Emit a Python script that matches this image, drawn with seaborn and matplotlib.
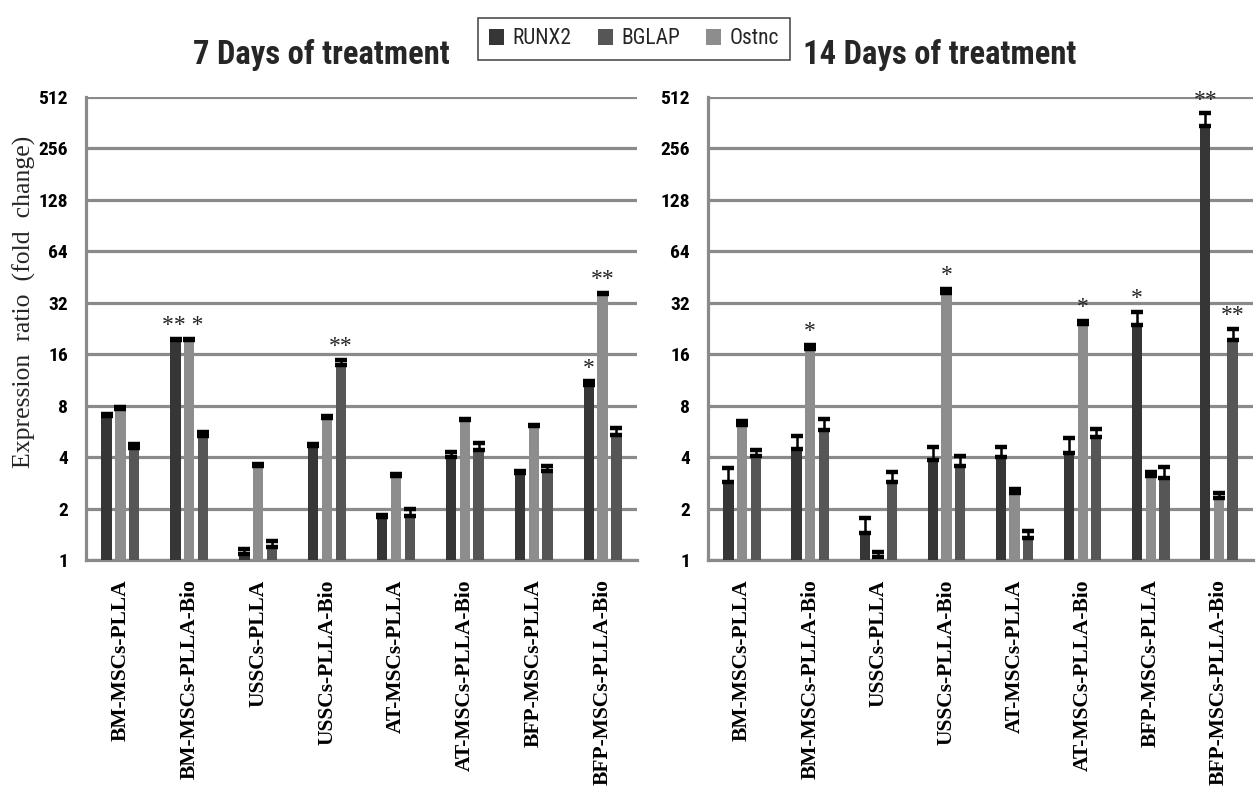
import numpy as np
import pandas as pd
import matplotlib
matplotlib.use("Agg")
import matplotlib.pyplot as plt
from matplotlib import font_manager
from matplotlib.patches import Patch
import seaborn as sns

# ---- data -------------------------------------------------------------
groups = ["BM-MSCs-PLLA", "BM-MSCs-PLLA-Bio", "USSCs-PLLA", "USSCs-PLLA-Bio",
          "AT-MSCs-PLLA", "AT-MSCs-PLLA-Bio", "BFP-MSCs-PLLA", "BFP-MSCs-PLLA-Bio"]
legend_genes = ["RUNX2", "BGLAP", "Ostnc"]
bar_genes = ["RUNX2", "Ostnc", "BGLAP"]
y_ticks = [1, 2, 4, 8, 16, 32, 64, 128, 256, 512]

# 7 days: fold change and upper error
runx2_d7 = [7.0, 19.3, 1.09, 4.65, 1.79, 4.03, 3.25, 10.5]
runx2_d7_err = [0.15, 0.4, 0.07, 0.12, 0.05, 0.25, 0.08, 0.6]
ostnc_d7 = [7.7, 19.3, 3.57, 6.8, 3.09, 6.6, 6.1, 36.0]
ostnc_d7_err = [0.2, 0.4, 0.07, 0.15, 0.08, 0.12, 0.1, 0.6]
bglap_d7 = [4.5, 5.3, 1.19, 13.8, 1.81, 4.42, 3.3, 5.42]
bglap_d7_err = [0.3, 0.3, 0.11, 1.1, 0.17, 0.41, 0.27, 0.48]

# 14 days: fold change and upper error
runx2_d14 = [2.87, 4.47, 1.44, 3.87, 4.0, 4.25, 23.8, 345.0]
runx2_d14_err = [0.57, 0.87, 0.33, 0.7, 0.6, 0.95, 4.4, 65.0]
ostnc_d14 = [6.17, 17.2, 1.04, 36.6, 2.46, 24.0, 3.11, 2.32]
ostnc_d14_err = [0.33, 0.9, 0.07, 2.0, 0.14, 1.2, 0.16, 0.14]
bglap_d14 = [4.05, 5.8, 2.87, 3.54, 1.34, 5.23, 3.01, 19.4]
bglap_d14_err = [0.38, 0.9, 0.39, 0.54, 0.14, 0.62, 0.48, 3.1]

# significance marks: (group index, genes the mark sits over, label)
stars_d7 = [(1, ("RUNX2", "Ostnc"), "** *"), (3, ("BGLAP",), "**"),
            (7, ("RUNX2",), "*"), (7, ("Ostnc",), "**")]
stars_d14 = [(1, ("Ostnc",), "*"), (3, ("Ostnc",), "*"), (5, ("Ostnc",), "*"),
             (6, ("RUNX2",), "*"), (7, ("RUNX2",), "**"), (7, ("BGLAP",), "**")]

colors = {"RUNX2": "#363636", "BGLAP": "#565656", "Ostnc": "#8d8d8d"}
grid_color = "#8a8a8a"


def tidy(runx2, runx2_err, bglap, bglap_err, ostnc, ostnc_err):
    frames = []
    for gene, vals, errs in [("RUNX2", runx2, runx2_err),
                             ("BGLAP", bglap, bglap_err),
                             ("Ostnc", ostnc, ostnc_err)]:
        frames.append(pd.DataFrame({"group": groups, "gene": gene,
                                    "value": vals, "err": errs}))
    return pd.concat(frames, ignore_index=True)


df7 = tidy(runx2_d7, runx2_d7_err, bglap_d7, bglap_d7_err, ostnc_d7, ostnc_d7_err)
df14 = tidy(runx2_d14, runx2_d14_err, bglap_d14, bglap_d14_err, ostnc_d14, ostnc_d14_err)

# ---- fonts ------------------------------------------------------------
sns.set_theme(style="white")
installed = {f.name for f in font_manager.fontManager.ttflist}
narrow_family = "Roboto"
for name in ["Liberation Sans Narrow", "Roboto Condensed", "Noto Sans Condensed",
             "Open Sans Condensed"]:
    if name in installed:
        narrow_family = name
        break
narrow = dict(family=narrow_family)
serif = "Liberation Serif"
plt.rcParams["font.family"] = ["DejaVu Sans"]


def draw(ax, df, stars):
    sns.barplot(data=df, x="group", y="value", hue="gene", order=groups,
                hue_order=bar_genes, palette=colors, width=0.6, gap=0.25,
                errorbar=None, legend=False, saturation=1, linewidth=0,
                ax=ax, zorder=3)
    ax.set_yscale("log", base=2)
    tops = {}
    for gene, cont in zip(bar_genes, ax.containers):
        xs = np.array([b.get_x() + b.get_width() / 2 for b in cont])
        hs = np.array([b.get_height() for b in cont])
        err = df[df.gene == gene].set_index("group").loc[groups, "err"].to_numpy()
        ax.errorbar(xs, hs, yerr=[np.zeros_like(err), err], fmt="none",
                    ecolor="black", elinewidth=1.8, capsize=4.5, capthick=3.2,
                    zorder=4)
        for i, (x, h, e) in enumerate(zip(xs, hs, err)):
            tops[(i, gene)] = (x, h + e)
    for gi, genes, label in stars:
        x = np.mean([tops[(gi, g)][0] for g in genes])
        top = max(tops[(gi, g)][1] for g in genes)
        ax.annotate(label, (x, top), xytext=(0, 2), textcoords="offset points",
                    ha="center", va="bottom", fontsize=17, family=serif,
                    color="#222222", annotation_clip=False)

    ax.set_ylim(1, 512)
    ax.set_xlim(-0.5, len(groups) - 0.5)
    ax.set_yticks(y_ticks)
    ax.set_yticklabels([str(t) for t in y_ticks], fontsize=14,
                       fontweight="bold", **narrow)
    ax.minorticks_off()
    ax.set_xticks(range(len(groups)))
    ax.set_xticklabels(groups, rotation=90, fontsize=15.5, fontweight="bold",
                       family=serif, va="top")
    ax.tick_params(axis="both", length=0, colors="black")
    ax.tick_params(axis="x", pad=14)
    ax.tick_params(axis="y", pad=13)
    ax.yaxis.grid(True, color=grid_color, linewidth=2.3)
    ax.xaxis.grid(False)
    ax.set_axisbelow(True)
    for side in ("top", "right"):
        ax.spines[side].set_visible(False)
    for side in ("left", "bottom"):
        ax.spines[side].set_color(grid_color)
        ax.spines[side].set_linewidth(2.3)
    ax.set_xlabel("")
    ax.set_ylabel("")


fig = plt.figure(figsize=(12.56, 7.94), dpi=100)
ax1 = fig.add_axes([86 / 1256, 1 - 560 / 794, 551 / 1256, 463 / 794])
ax2 = fig.add_axes([708 / 1256, 1 - 560 / 794, 545 / 1256, 463 / 794])
draw(ax1, df7, stars_d7)
draw(ax2, df14, stars_d14)

fig.text(24 / 1256, 1 - 302 / 794, "Expression  ratio  (fold  change)",
         rotation=90, ha="center", va="center", fontsize=18.5, family=serif)

fig.text(321 / 1256, 1 - 55 / 794, "7 Days of treatment", ha="center",
         va="center", fontsize=23.5, fontweight="bold", **narrow)
fig.text(940 / 1256, 1 - 55 / 794, "14 Days of treatment", ha="center",
         va="center", fontsize=23.5, fontweight="bold", **narrow)

handles = [Patch(facecolor=colors[g], edgecolor="none", label=g)
           for g in legend_genes]
leg = fig.legend(handles=handles, loc="center", ncol=3,
                 bbox_to_anchor=(634 / 1256, 1 - 39 / 794), frameon=True,
                 fancybox=False, handlelength=0.7, handleheight=0.7,
                 handletextpad=0.4, columnspacing=1.2, borderpad=0.5,
                 prop=dict(size=15.5, **narrow))
leg.get_frame().set_edgecolor("#222222")
leg.get_frame().set_linewidth(1.2)

fig.savefig("out.png", dpi=100, facecolor="white")
